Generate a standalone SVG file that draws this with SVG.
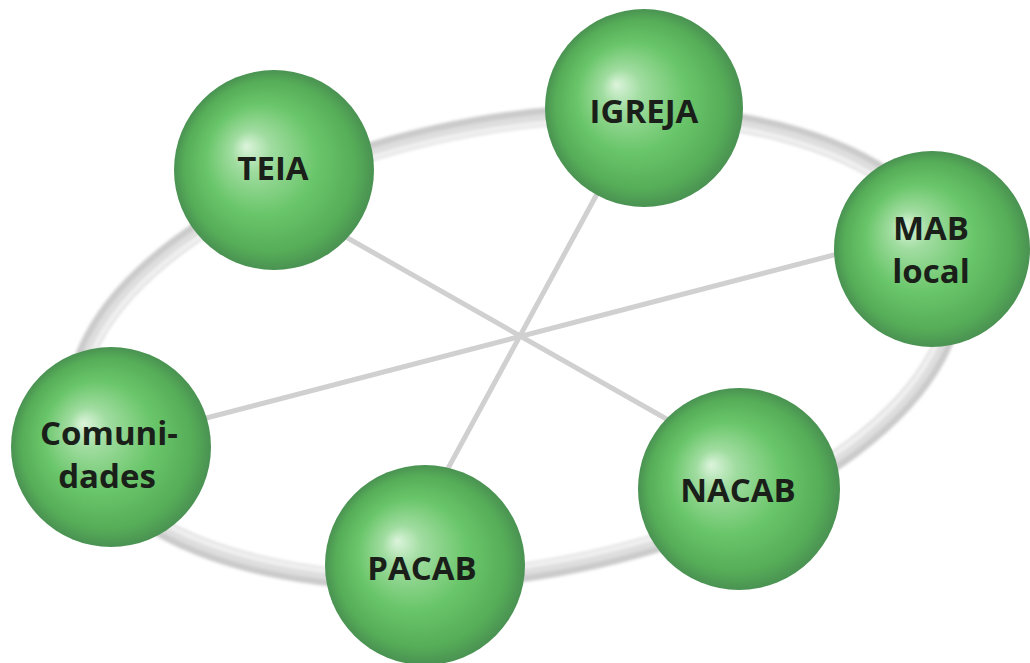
<svg xmlns="http://www.w3.org/2000/svg" width="1030" height="663" viewBox="0 0 1030 663">
<defs>
<radialGradient id="sph" cx="50%" cy="50%" r="50%" fx="36%" fy="38%">
<stop offset="0%" stop-color="#dcf4dc"/>
<stop offset="20%" stop-color="#a0dca0"/>
<stop offset="55%" stop-color="#6ac66a"/>
<stop offset="85%" stop-color="#56ae58"/>
<stop offset="100%" stop-color="#4a9252"/>
</radialGradient>
<filter id="soft" x="-5%" y="-5%" width="110%" height="110%"><feGaussianBlur stdDeviation="1.6"/></filter>
<style>
.ball{fill:url(#sph);}
.lbl{font-family:"Open Sans","Liberation Sans",sans-serif;font-weight:bold;font-size:33px;fill:#1a1f1a;text-anchor:middle;}
.spoke{stroke:#d0d0d0;stroke-width:5;stroke-linecap:round;fill:none;}
</style>
</defs>
<rect width="1030" height="663" fill="#ffffff"/>
<g id="ring" filter="url(#soft)">
<ellipse cx="515" cy="347" rx="445" ry="224" transform="rotate(-10 515 347)" fill="none" stroke="#cbcbcb" stroke-width="19"/>
<ellipse cx="515" cy="347" rx="442" ry="221" transform="rotate(-10 515 347)" fill="none" stroke="#dedede" stroke-width="12"/>
<ellipse cx="515" cy="347" rx="439" ry="218" transform="rotate(-10 515 347)" fill="none" stroke="#f0f0f0" stroke-width="5"/>
</g>
<g id="connectors">
<line class="spoke" x1="300" y1="211" x2="700" y2="438"/>
<line class="spoke" x1="610" y1="170" x2="420" y2="520"/>
<line class="spoke" x1="880" y1="243" x2="160" y2="430"/>
</g>
<g id="teia"><circle class="ball" cx="274" cy="170" r="100"/><text class="lbl" x="273" y="180">TEIA</text></g>
<g id="igreja"><circle class="ball" cx="644" cy="108" r="99"/><text class="lbl" x="644" y="123">IGREJA</text></g>
<g id="mab"><circle class="ball" cx="932" cy="249" r="98"/><text class="lbl" x="931" y="240">MAB</text><text class="lbl" x="931" y="283">local</text></g>
<g id="comunidades"><circle class="ball" cx="111" cy="447" r="100"/><text class="lbl" x="109" y="445">Comuni-</text><text class="lbl" x="107" y="488">dades</text></g>
<g id="pacab"><circle class="ball" cx="425" cy="565" r="100"/><text class="lbl" x="422" y="580">PACAB</text></g>
<g id="nacab"><circle class="ball" cx="739" cy="489" r="101"/><text class="lbl" x="738" y="502">NACAB</text></g>
</svg>
